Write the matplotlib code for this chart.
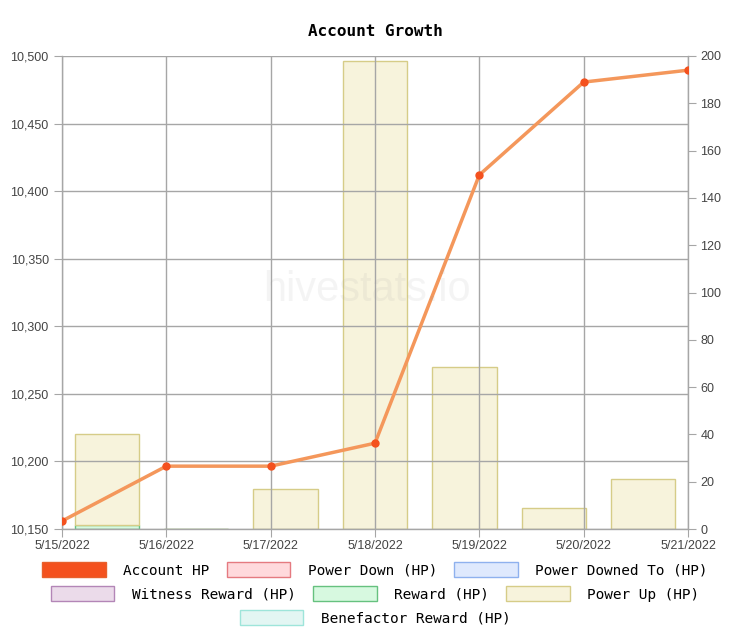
import matplotlib.pyplot as plt
import matplotlib.dates as mdates
from matplotlib.patches import Patch
from matplotlib.ticker import FuncFormatter
import numpy as np
import pandas as pd

plt.rcParams["font.family"] = ["Liberation Sans", "DejaVu Sans"]

# ============================
# Data
# ============================
dates = pd.to_datetime(["2022-05-15", "2022-05-16", "2022-05-17", "2022-05-18",
                        "2022-05-19", "2022-05-20", "2022-05-21"])
account_hp = [10155.9, 10196.5, 10196.5, 10213.5, 10412.0, 10480.7, 10489.5]
reward_hp = [1.7, 0.05, 0.02, 0.02, 0.02, 0.02, 0.05]
power_up_hp = [38.5, 0, 16.9, 197.8, 68.4, 8.9, 21.0]

# ============================
# Colours
# ============================
GRID = "#a6a6a6"
LINE = "#f4975b"
MARK = "#f4511e"
TEXT = "#444444"

fig = plt.figure(figsize=(7.5, 6.35), dpi=100)
rect = [62 / 750, 1 - 529 / 635, 626 / 750, 473 / 635]

# bars on a category axis (7 slots), right y axis
axb = fig.add_axes(rect)
axb.patch.set_alpha(0)
slots = np.arange(len(dates))
axb.bar(slots, reward_hp, width=0.72, color="#d7f9e0", edgecolor="#66c17f", linewidth=1)
axb.bar(slots, power_up_hp, width=0.72, bottom=reward_hp, color="#f7f3dc",
        edgecolor="#d6cc88", linewidth=1)
axb.set_xlim(-0.5, len(dates) - 0.5)
axb.set_ylim(0, 200)
axb.set_yticks(range(0, 201, 20))
axb.yaxis.tick_right()
axb.set_xticks([])
for s in axb.spines.values():
    s.set_visible(False)
axb.tick_params(axis="y", colors=GRID, labelcolor=TEXT, length=6, labelsize=9, pad=3)

# faint watermark, over the bars
fig.text(367 / 750, 1 - 290 / 635, "hivestats.io", ha="center", va="center",
         fontsize=30, color="#999999", alpha=0.1, zorder=1)

# line on a date axis, left y axis
ax = fig.add_axes(rect)
ax.patch.set_alpha(0)
ax.plot(dates, account_hp, color=LINE, linewidth=2.5, zorder=3)
ax.plot(dates, account_hp, linestyle="none", marker="o", markersize=5,
        color=MARK, zorder=4)
ax.set_xlim(dates[0], dates[-1])
ax.set_ylim(10150, 10500)
ax.set_yticks(range(10150, 10501, 50))
ax.yaxis.set_major_formatter(FuncFormatter(lambda v, p: f"{v:,.0f}"))
ax.set_xticks(dates)
ax.xaxis.set_major_formatter(FuncFormatter(
    lambda v, p: f"{mdates.num2date(v).month}/{mdates.num2date(v).day}/{mdates.num2date(v).year}"))
ax.grid(True, color=GRID, linewidth=1, zorder=2)
ax.set_axisbelow(False)
for name, s in ax.spines.items():
    s.set_color(GRID)
    s.set_linewidth(1)
ax.spines["top"].set_visible(False)
ax.tick_params(colors=GRID, labelcolor=TEXT, length=6, labelsize=9)
ax.tick_params(axis="x", pad=2)

fig.text(0.5, 1 - 32 / 635, "Account Growth", ha="center", va="center",
         family="DejaVu Sans Mono", fontweight="bold", fontsize=11.5)

# ============================
# Legend rows
# ============================
def patch(fc, ec):
    return Patch(facecolor=fc, edgecolor=ec, linewidth=1)

rows = [
    [(patch(MARK, "#e8602c"), "Account HP"),
     (patch("#ffd9dc", "#e57a80"), "Power Down (HP)"),
     (patch("#dfe9fd", "#8fb1ee"), "Power Downed To (HP)")],
    [(patch("#ebdbea", "#b386b7"), "Witness Reward (HP)"),
     (patch("#d7f9e0", "#66c17f"), "Reward (HP)"),
     (patch("#f7f3dc", "#d6cc88"), "Power Up (HP)")],
    [(patch("#e3f6f3", "#9ee5da"), "Benefactor Reward (HP)")],
]
ys = [570, 594, 618]
for row, y in zip(rows, ys):
    fig.legend([h for h, _ in row], [l for _, l in row], loc="center",
               bbox_to_anchor=(0.5, 1 - y / 635), ncol=len(row), frameon=False,
               prop={"family": "DejaVu Sans Mono", "size": 10.4},
               handlelength=4.4, handleheight=1.2, handletextpad=1.2,
               columnspacing=1.2, borderpad=0)

plt.savefig("out.png", dpi=100)
